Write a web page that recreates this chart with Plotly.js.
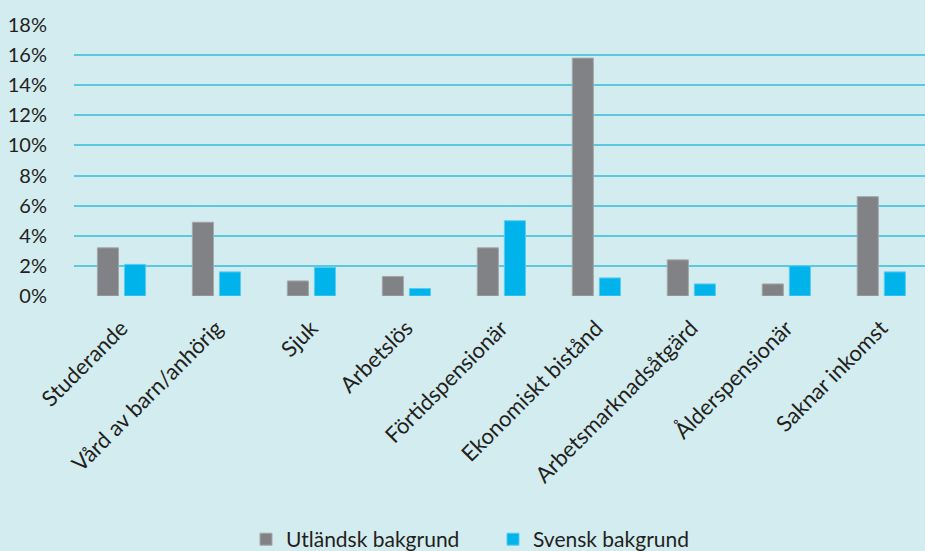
<!DOCTYPE html>
<html>
<head>
<meta charset="utf-8">
<script src="https://cdn.plot.ly/plotly-3.0.1.min.js"></script>
<style>html,body{margin:0;padding:0;background:#d3ecef;}#chart{width:925px;height:551px;}</style>
</head>
<body>
<div id="chart"></div>
<script>
const categories = ["Studerande","Vård av barn/anhörig","Sjuk","Arbetslös","Förtidspensionär","Ekonomiskt bistånd","Arbetsmarknadsåtgärd","Ålderspensionär","Saknar inkomst"];
const utlandsk = [3.2, 4.9, 1.0, 1.3, 3.2, 15.8, 2.4, 0.8, 6.6];
const svensk = [2.1, 1.6, 1.9, 0.5, 5.0, 1.2, 0.8, 2.0, 1.6];
const yTicks = [0,2,4,6,8,10,12,14,16,18];
const yTickText = yTicks.map(v => v + "%");

const font = "Lato, 'Open Sans', sans-serif";
const data = [
  {type:"bar", name:"Utländsk bakgrund", x:categories, y:utlandsk,
   marker:{color:"#808285", line:{color:"#a5a7aa", width:1}}},
  {type:"bar", name:"Svensk bakgrund", x:categories, y:svensk,
   marker:{color:"#00b4eb", line:{color:"#5ccbef", width:1}}}
];
const layout = {
  width:925, height:551,
  paper_bgcolor:"#d3ecef", plot_bgcolor:"#d3ecef",
  margin:{l:74, r:0, t:25, b:255},
  font:{family:font, color:"#231f20", size:19},
  barmode:"group", bargap:0.43, bargroupgap:0.22,
  showlegend:true,
  legend:{orientation:"h", xref:"container", yref:"container", x:246/925, xanchor:"left", y:0.058, yanchor:"top",
          font:{size:21, family:font, color:"#231f20"}, itemwidth:30, entrywidth:202, entrywidthmode:"pixels", tracegroupgap:0},
  xaxis:{type:"category", range:[-0.5, 8.46], tickangle:-45, showgrid:false, zeroline:false, showline:false,
         ticks:"", tickfont:{size:22, family:font}, ticklabelstandoff:14, automargin:false},
  yaxis:{range:[0,18], tickvals:yTicks, ticktext:yTickText, showgrid:true, gridcolor:"#5cc8e0", gridwidth:2,
         zeroline:false, showline:false, ticks:"outside", ticklen:22, tickcolor:"rgba(0,0,0,0)",
         tickfont:{size:20, family:font}, automargin:false}
};
Plotly.newPlot("chart", data, layout, {displayModeBar:false, staticPlot:true});
</script>
</body>
</html>
